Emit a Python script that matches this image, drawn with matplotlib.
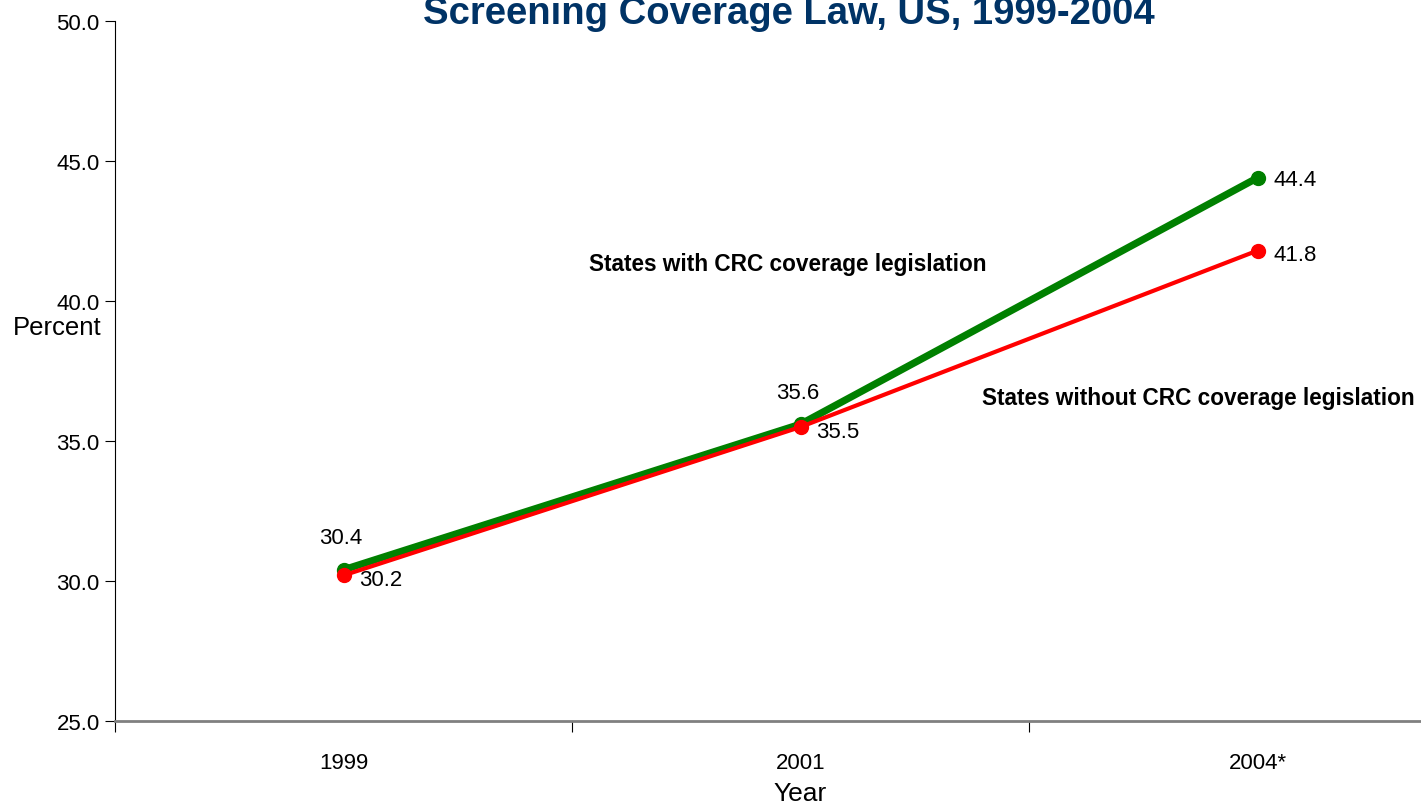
import matplotlib
matplotlib.use("Agg")
import matplotlib.pyplot as plt

plt.rcParams['font.family'] = ['Liberation Sans', 'DejaVu Sans']

years = ["1999", "2001", "2004*"]
with_law = [30.4, 35.6, 44.4]
without_law = [30.2, 35.5, 41.8]
y_ticks = [25.0, 30.0, 35.0, 40.0, 45.0, 50.0]
title = "Screening Coverage Law, US, 1999-2004"
label_with = "States with CRC coverage legislation"
label_without = "States without CRC coverage legislation"

W, H = 1421, 804
fig = plt.figure(figsize=(W / 100, H / 100), dpi=100)
ax = fig.add_axes([115 / W, (H - 722) / H, 1371 / W, 700 / H])

x = list(range(len(years)))
ax.plot(x, with_law, color="#008000", lw=5.2, marker="o", ms=10, zorder=3,
        solid_capstyle="round")
ax.plot(x, without_law, color="#FF0000", lw=3.0, marker="o", ms=10, zorder=4,
        solid_capstyle="round")

ax.set_xlim(-0.5, 2.5)
ax.set_ylim(25, 50)
ax.set_yticks(y_ticks)
ax.set_yticklabels([f"{v:.1f}" for v in y_ticks], fontsize=16)
ax.set_xticks([-0.5, 0.5, 1.5])
ax.set_xticklabels([])
ax.tick_params(axis="x", which="major", length=8, width=0.8, color="black", direction="out")
ax.set_xticks(x, minor=True)
ax.set_xticklabels(years, minor=True, fontsize=16)
ax.tick_params(axis="x", which="minor", length=0, pad=22)
ax.tick_params(axis="y", length=7, width=0.8, direction="out", pad=4)

for s in ["top", "right"]:
    ax.spines[s].set_visible(False)
ax.spines["left"].set_linewidth(0.8)
ax.spines["bottom"].set_color("#808080")
ax.spines["bottom"].set_linewidth(2.0)

ax.set_xlabel("Year", fontsize=19, labelpad=6)
fig.text(57 / W, 1 - 328 / H, "Percent", fontsize=18.5, ha="center", va="center")

# data labels
for i, v in enumerate(with_law):
    if i < 2:
        ax.annotate(f"{v:.1f}", (i, v), xytext=(-2, 23), textcoords="offset points",
                    ha="center", va="center", fontsize=16)
    else:
        ax.annotate(f"{v:.1f}", (i, v), xytext=(27, -1), textcoords="offset points",
                    ha="center", va="center", fontsize=16)
for i, v in enumerate(without_law):
    ax.annotate(f"{v:.1f}", (i, v), xytext=(27, -3), textcoords="offset points",
                ha="center", va="center", fontsize=16)

fig.text(788 / W, 1 - 264 / H, label_with, fontsize=16.3, fontweight="bold",
         ha="center", va="center")
fig.text(1198 / W, 1 - 399 / H, label_without, fontsize=16.3, fontweight="bold",
         ha="center", va="center")

fig.text(789 / W, 1 - 14 / H, title, fontsize=27.5, fontweight="bold",
         color="#003366", ha="center", va="center")

fig.savefig("out.png", dpi=100)
